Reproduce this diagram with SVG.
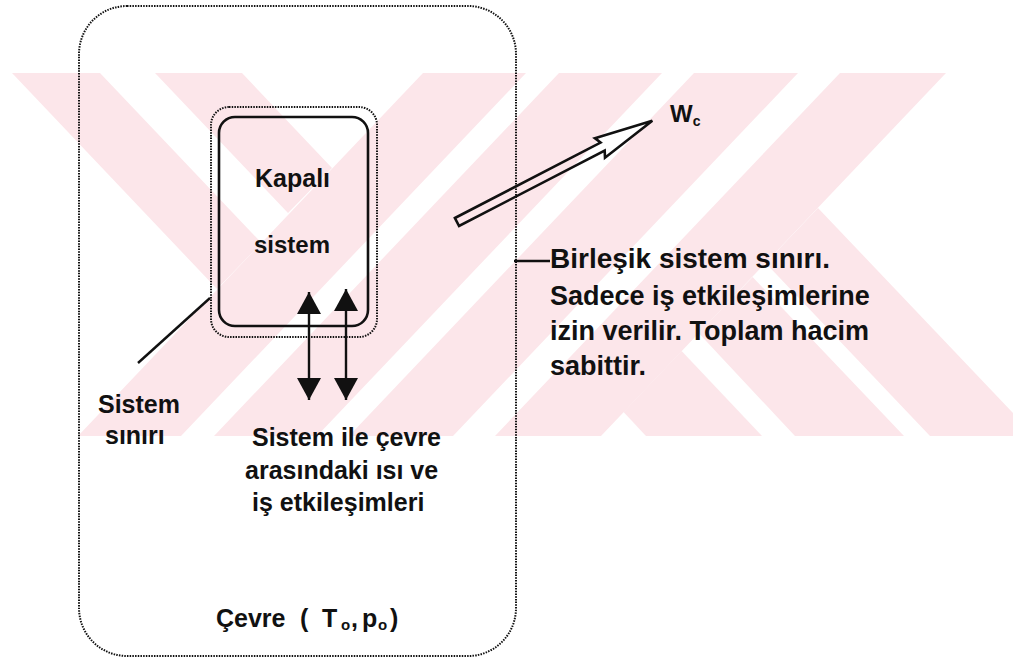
<svg xmlns="http://www.w3.org/2000/svg" width="1013" height="659" viewBox="0 0 1013 659">
  <style>
    .wm { fill: #fce6ea; stroke: none; }
    .dotted { fill: none; stroke: #111; stroke-width: 2; stroke-dasharray: 1.5 1.2; }
    .solid { fill: none; stroke: #111; stroke-width: 2.6; }
    .lead { stroke: #111; stroke-width: 2.4; fill: none; }
    .txt { font-family: "Liberation Sans", Arial, sans-serif; font-weight: bold; fill: #111; }
    .f25 { font-size: 25px; }
    .f27 { font-size: 27px; }
  </style>
  <defs>
    <marker id="head" viewBox="0 0 22 24" refX="22" refY="12" markerWidth="22" markerHeight="24" markerUnits="userSpaceOnUse" orient="auto-start-reverse">
      <path d="M0,0 L22,12 L0,24 z" fill="#111"/>
    </marker>
    <clipPath id="wmclip"><rect x="0" y="73" width="1013" height="363"/></clipPath>
  </defs>
  <rect width="1013" height="659" fill="#fff"/>

  <g id="watermark" clip-path="url(#wmclip)">
    <polygon class="wm" points="423,73 526,73 181,436 78,436"/>
    <polygon class="wm" points="559,73 662,73 317,436 214,436"/>
    <polygon class="wm" points="12,73 100,73 261.5,243 217,289"/>
    <polygon class="wm" points="155,73 242,73 332,168 288,213"/>
    <polygon class="wm" points="694,73 798,73 453,436 349,436"/>
    <polygon class="wm" points="840,73 946,73 601,436 495,436"/>
    <polygon class="wm" points="765.6,263 818,208 1035,436 930,436"/>
    <polygon class="wm" points="698.6,333 752.6,277 904,436 795,436"/>
    <polygon class="wm" points="623.6,412 681.6,351 762,436 646,436"/>
  </g>

  <g id="combined-boundary">
    <rect class="dotted" x="79" y="6" width="437" height="650" rx="48" ry="48"/>
  </g>

  <g id="system-boundary">
    <rect class="dotted" x="211" y="107" width="166" height="230" rx="18" ry="18"/>
  </g>

  <g id="closed-system">
    <rect class="solid" x="219" y="117" width="149" height="209" rx="16" ry="16"/>
    <text class="txt f25" x="255" y="187">Kapalı</text>
    <text class="txt" x="254" y="253" font-size="24">sistem</text>
  </g>

  <g id="work-output">
    <polygon points="0,-4.5 164,-4.5 161,-11 220,0 161,11 164,4.5 0,4.5" transform="translate(457,222) rotate(-27.4)" fill="none" stroke="#111" stroke-width="2.6" stroke-linejoin="miter"/>
    <text class="txt" x="670" y="122" font-size="24">W<tspan font-size="14" dy="4">c</tspan></text>
  </g>

  <g id="connectors">
    <line class="lead" x1="309" y1="292" x2="309" y2="400" marker-start="url(#head)" marker-end="url(#head)"/>
    <line class="lead" x1="346" y1="289" x2="346" y2="400" marker-start="url(#head)" marker-end="url(#head)"/>
    <line class="lead" x1="138" y1="363" x2="210" y2="298"/>
    <line class="lead" x1="514" y1="261" x2="550" y2="261" stroke-width="2"/>
  </g>

  <g id="label-system-boundary">
    <text class="txt f25" x="98" y="413">Sistem</text>
    <text class="txt f25" x="105" y="444">sınırı</text>
  </g>

  <g id="label-interactions">
    <text class="txt f25" x="252" y="446">Sistem ile çevre</text>
    <text class="txt f25" x="245" y="479">arasındaki ısı ve</text>
    <text class="txt f25" x="252" y="511">iş etkileşimleri</text>
  </g>

  <g id="label-combined">
    <text class="txt f27" x="550" y="268" textLength="280" lengthAdjust="spacingAndGlyphs">Birleşik sistem sınırı.</text>
    <text class="txt f27" x="550" y="305">Sadece iş etkileşimlerine</text>
    <text class="txt f27" x="550" y="340">izin verilir. Toplam hacim</text>
    <text class="txt f27" x="550" y="375">sabittir.</text>
  </g>

  <g id="label-surroundings">
    <text class="txt f25" y="627"><tspan x="216">Çevre</tspan><tspan x="300">(</tspan><tspan x="322">T</tspan><tspan x="341" font-size="15" dy="3">o</tspan><tspan x="351" dy="-3">,</tspan><tspan x="362">p</tspan><tspan x="378" font-size="15" dy="3">o</tspan><tspan x="390" dy="-3">)</tspan></text>
  </g>
</svg>
